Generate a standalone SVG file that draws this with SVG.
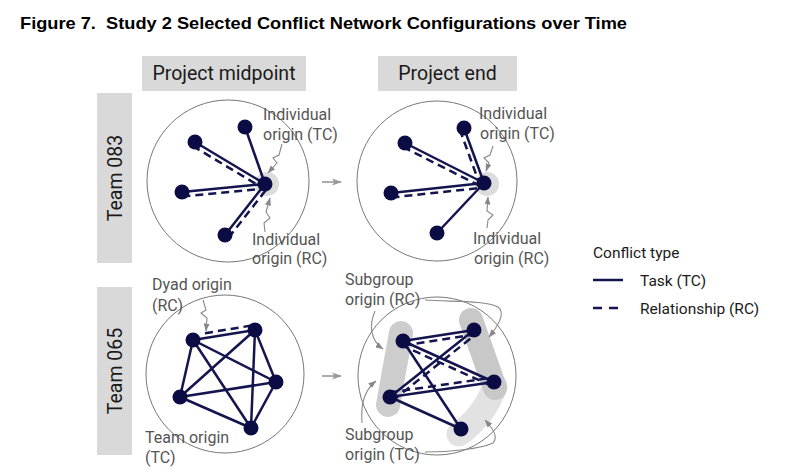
<svg xmlns="http://www.w3.org/2000/svg" width="808" height="471" viewBox="0 0 808 471">
<defs>
<style>
.title{font-family:"Liberation Sans Narrow","Liberation Sans",Arial,sans-serif;font-weight:bold;font-size:16.5px;fill:#000;white-space:pre}
.hdr{font-family:Roboto,"Liberation Sans",sans-serif;font-size:19.5px;fill:#1a1a1a}
.box{fill:#d9d9d9}
.lbl{font-family:Roboto,"Liberation Sans",sans-serif;font-size:16px;fill:#555}
.leg{font-family:Roboto,"Liberation Sans",sans-serif;font-size:15.5px;fill:#1a1a1a}
.ring{fill:none;stroke:#777;stroke-width:1}
.e{stroke:#14144f;stroke-width:2.5;fill:none}
.d{stroke:#14144f;stroke-width:2.5;fill:none;stroke-dasharray:8 5}
.n{fill:#0c0c45}
.ann{fill:none;stroke:#888;stroke-width:1.1}
.step{fill:none;stroke:#999;stroke-width:1.6}
</style>
<marker id="ah" viewBox="0 0 8 6" refX="7.5" refY="3" markerWidth="8" markerHeight="6" markerUnits="userSpaceOnUse" orient="auto">
<path d="M0,0 L8,3 L0,6 z" fill="#888"/>
</marker>
<marker id="ah2" viewBox="0 0 10 8" refX="9" refY="4" markerWidth="10" markerHeight="8" markerUnits="userSpaceOnUse" orient="auto">
<path d="M0,0.5 L10,4 L0,7.5 L2.5,4 z" fill="#999"/>
</marker>
</defs>
<rect width="808" height="471" fill="#fff"/>

<text class="title" x="20" y="29" textLength="607" lengthAdjust="spacingAndGlyphs" xml:space="preserve">Figure 7.  Study 2 Selected Conflict Network Configurations over Time</text>

<g id="hdr-mid"><rect class="box" x="142" y="56" width="164" height="35"/><text class="hdr" x="224" y="80" text-anchor="middle">Project midpoint</text></g>
<g id="hdr-end"><rect class="box" x="378" y="56" width="139" height="35"/><text class="hdr" x="447.5" y="80" text-anchor="middle">Project end</text></g>
<g id="team083"><rect class="box" x="97" y="93" width="35" height="170"/><text class="hdr" transform="translate(121.5,178) rotate(-90)" text-anchor="middle">Team 083</text></g>
<g id="team065"><rect class="box" x="97" y="287" width="35" height="168"/><text class="hdr" transform="translate(121.5,371) rotate(-90)" text-anchor="middle">Team 065</text></g>

<!-- Panel 1: Team 083 midpoint -->
<g id="panel-083-mid">
<circle class="ring" cx="228" cy="181" r="81"/>
<circle cx="267" cy="184" r="12" fill="#dcdcdc"/>
<g class="connectors">
<line class="e" x1="245" y1="127" x2="265" y2="184"/>
<line class="e" x1="195" y1="142" x2="265" y2="184"/>
<line class="d" x1="192.7" y1="146" x2="262.7" y2="188"/>
<line class="e" x1="182" y1="192" x2="265" y2="184"/>
<line class="d" x1="182.4" y1="196.5" x2="265.4" y2="188.5"/>
<line class="e" x1="225" y1="235" x2="265" y2="184"/>
<line class="d" x1="228.5" y1="237.8" x2="268.5" y2="186.8"/>
</g>
<circle class="n" cx="245" cy="127" r="7.5"/>
<circle class="n" cx="195" cy="142" r="7.5"/>
<circle class="n" cx="182" cy="192" r="7.5"/>
<circle class="n" cx="225" cy="235" r="7.5"/>
<circle class="n" cx="265" cy="184" r="7.5"/>
<text class="lbl" x="263" y="120">Individual</text>
<text class="lbl" x="263" y="140">origin (TC)</text>
<text class="lbl" x="252" y="245">Individual</text>
<text class="lbl" x="252" y="264">origin (RC)</text>
<path class="ann" d="M282,144 L279,155 L273,158 L277,163 L268,173" marker-end="url(#ah)"/>
<path class="ann" d="M265,232 L264,223 L270,218 L266,212 L270,198" marker-end="url(#ah)"/>
</g>

<!-- Panel 2: Team 083 end -->
<g id="panel-083-end">
<circle class="ring" cx="437" cy="181" r="80"/>
<circle cx="487" cy="184" r="12" fill="#dcdcdc"/>
<g class="connectors">
<line class="e" x1="464" y1="128" x2="484" y2="183"/>
<line class="d" x1="459.8" y1="129.5" x2="479.8" y2="184.5"/>
<line class="e" x1="405" y1="143" x2="484" y2="183"/>
<line class="d" x1="403" y1="147" x2="482" y2="187"/>
<line class="e" x1="391" y1="193" x2="484" y2="183"/>
<line class="d" x1="391.5" y1="197.5" x2="484.5" y2="187.5"/>
<line class="e" x1="437" y1="233" x2="484" y2="183"/>
</g>
<circle class="n" cx="464" cy="128" r="7.5"/>
<circle class="n" cx="405" cy="143" r="7.5"/>
<circle class="n" cx="391" cy="193" r="7.5"/>
<circle class="n" cx="437" cy="233" r="7.5"/>
<circle class="n" cx="484" cy="183" r="7.5"/>
<text class="lbl" x="479" y="119">Individual</text>
<text class="lbl" x="480" y="139">origin (TC)</text>
<text class="lbl" x="473" y="244">Individual</text>
<text class="lbl" x="474" y="264">origin (RC)</text>
<path class="ann" d="M493,146 L490,155 L484,158 L489,163 L486,171" marker-end="url(#ah)"/>
<path class="ann" d="M487,228 L488,220 L493,215 L487,211 L488,197" marker-end="url(#ah)"/>
</g>

<!-- Panel 3: Team 065 midpoint -->
<g id="panel-065-mid">
<circle class="ring" cx="225" cy="374" r="79"/>
<g class="connectors">
<line class="e" x1="193" y1="340" x2="255" y2="330"/>
<line class="d" x1="205" y1="333.2" x2="254.2" y2="325.1"/>
<line class="e" x1="193" y1="340" x2="276" y2="382"/>
<line class="e" x1="193" y1="340" x2="251" y2="428"/>
<line class="e" x1="193" y1="340" x2="180" y2="397"/>
<line class="e" x1="255" y1="330" x2="276" y2="382"/>
<line class="e" x1="255" y1="330" x2="251" y2="428"/>
<line class="e" x1="255" y1="330" x2="180" y2="397"/>
<line class="e" x1="276" y1="382" x2="251" y2="428"/>
<line class="e" x1="276" y1="382" x2="180" y2="397"/>
<line class="e" x1="251" y1="428" x2="180" y2="397"/>
</g>
<circle class="n" cx="193" cy="340" r="7.5"/>
<circle class="n" cx="255" cy="330" r="7.5"/>
<circle class="n" cx="276" cy="382" r="7.5"/>
<circle class="n" cx="251" cy="428" r="7.5"/>
<circle class="n" cx="180" cy="397" r="7.5"/>
<text class="lbl" x="152" y="290">Dyad origin</text>
<text class="lbl" x="152" y="311">(RC)</text>
<text class="lbl" x="145" y="443">Team origin</text>
<text class="lbl" x="145" y="463">(TC)</text>
<path class="ann" d="M203,300 L206,310 L201,313 L207,318 L206,331" marker-end="url(#ah)"/>
</g>

<!-- Panel 4: Team 065 end -->
<g id="panel-065-end">
<circle class="ring" cx="437" cy="376" r="79"/>
<line x1="401" y1="333" x2="388" y2="405" stroke="#cdcdcd" stroke-width="24" stroke-linecap="round"/>
<path d="M495,386 Q485,415 459,434" fill="none" stroke="#e2e2e2" stroke-width="25" stroke-linecap="round"/>
<line x1="471" y1="320" x2="495" y2="388" stroke="#c8c8c8" stroke-width="24" stroke-linecap="round"/>
<g class="connectors">
<line class="e" x1="403" y1="341" x2="474" y2="330"/>
<line class="d" x1="403.7" y1="345.4" x2="474.7" y2="334.4"/>
<line class="e" x1="403" y1="341" x2="494" y2="382"/>
<line class="d" x1="401.2" y1="345.1" x2="492.2" y2="386.1"/>
<line class="e" x1="403" y1="341" x2="461" y2="429"/>
<line class="e" x1="390" y1="397" x2="474" y2="330"/>
<line class="d" x1="392.8" y1="400.5" x2="476.8" y2="333.5"/>
<line class="e" x1="390" y1="397" x2="494" y2="382"/>
<line class="d" x1="389.4" y1="392.5" x2="493.4" y2="377.5"/>
<line class="e" x1="390" y1="397" x2="461" y2="429"/>
</g>
<circle class="n" cx="403" cy="341" r="7.5"/>
<circle class="n" cx="474" cy="330" r="7.5"/>
<circle class="n" cx="494" cy="382" r="7.5"/>
<circle class="n" cx="461" cy="429" r="7.5"/>
<circle class="n" cx="390" cy="397" r="7.5"/>
<text class="lbl" x="345" y="285">Subgroup</text>
<text class="lbl" x="345" y="305">origin (RC)</text>
<text class="lbl" x="345" y="440">Subgroup</text>
<text class="lbl" x="345" y="460">origin (TC)</text>
<path class="ann" d="M425,300 C450,302 485,300 498,307 C506,313 498,326 489,337" marker-end="url(#ah)"/>
<path class="ann" d="M375,311 C369,325 370,340 383,349" marker-end="url(#ah)"/>
<path class="ann" d="M425,452 C450,452 480,449 493,443 C499,436 492,428 485,420" marker-end="url(#ah)"/>
<path class="ann" d="M362,423 C361,408 362,392 376,381" marker-end="url(#ah)"/>
</g>

<g id="steps">
<line class="step" x1="322" y1="182" x2="341" y2="182" marker-end="url(#ah2)"/>
<line class="step" x1="322" y1="376" x2="341" y2="376" marker-end="url(#ah2)"/>
</g>

<g id="legend">
<text class="leg" x="593" y="258">Conflict type</text>
<line class="e" x1="593" y1="280" x2="623" y2="280"/>
<text class="leg" x="640" y="286">Task (TC)</text>
<line class="e" x1="593" y1="308" x2="623" y2="308" stroke-dasharray="9 7"/>
<text class="leg" x="640" y="314">Relationship (RC)</text>
</g>
</svg>
